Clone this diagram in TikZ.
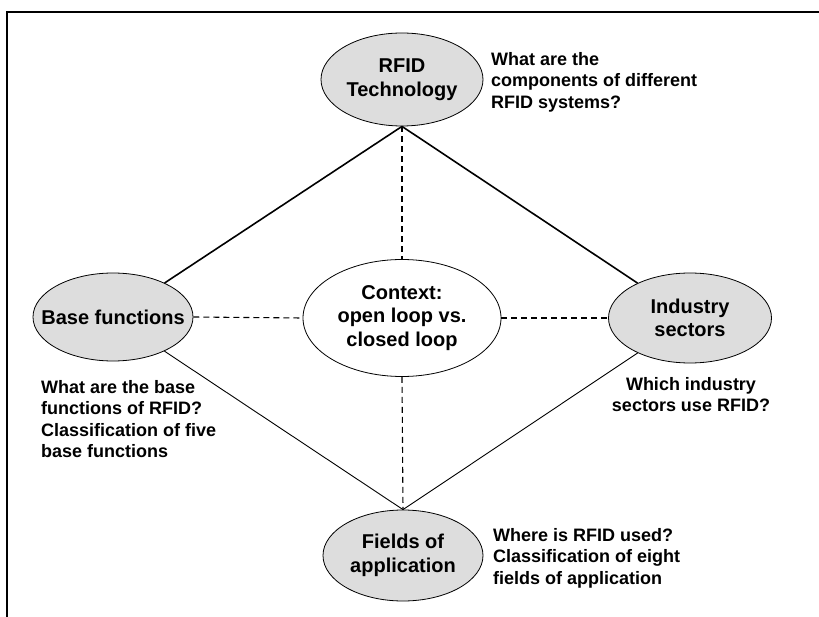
\documentclass[tikz,border=0pt]{standalone}
\usepackage{fontspec}
\setmainfont{Liberation Sans}
\usetikzlibrary{shapes.geometric}
\definecolor{ellgray}{RGB}{221,221,221}
\begin{document}
\begin{tikzpicture}[x=1pt,y=-1pt,
  topic/.style={ellipse, draw=black, line width=0.8pt, fill=ellgray, inner sep=0pt},
  ctxstyle/.style={ellipse, draw=black, line width=0.8pt, fill=white, inner sep=0pt},
  inlabel/.style={font=\bfseries\fontsize{20}{23.5}\selectfont, align=center, inner sep=0pt},
  note/.style={font=\bfseries\fontsize{18}{21.5}\selectfont, inner sep=0pt},
  strongline/.style={line width=1.6pt},
  thinline/.style={line width=0.9pt},
  dashline/.style={line width=1.1pt, dash pattern=on 6pt off 4pt}]
\useasboundingbox (0,0) rectangle (819,617);
\draw[line width=2.2pt] (819,12) -- (7,12) -- (7,617);

\node[topic, minimum width=162pt, minimum height=93pt,
      label={[inlabel,name=rfidtext]center:RFID\\Technology}] (rfid) at (402,79.5) {};
\node[topic, minimum width=160pt, minimum height=88pt,
      label={[inlabel,name=basetext]center:Base functions}] (base) at (113,317) {};
\node[ctxstyle, minimum width=198pt, minimum height=117pt,
      label={[inlabel,name=ctxtext]center:Context:\\open loop vs.\\closed loop}] (ctx) at (402,318) {};
\node[topic, minimum width=163pt, minimum height=90pt,
      label={[inlabel,name=indtext]center:Industry\\sectors}] (ind) at (690,318) {};
\node[topic, minimum width=160pt, minimum height=91pt,
      label={[inlabel,name=fldtext]center:Fields of\\application}] (fld) at (403,555.5) {};

\draw[strongline] (rfid.south) -- (base);
\draw[strongline] (rfid.south) -- (ind);
\draw[thinline] (fld.north) -- (base);
\draw[thinline] (fld.north) -- (ind);
\draw[dashline] (rfid.south) -- (ctx.north);
\draw[dashline] (ctx.south) -- (fld.north);
\draw[dashline] (base.east) -- (ctx.west);
\draw[dashline] (ctx.east) -- (ind.west);

\node[note, anchor=north west, align=left] (rfidnote) at (491,52)
  {What are the\\components of different\\RFID systems?};
\node[note, anchor=north west, align=left] (basenote) at (41,380)
  {What are the base\\functions of RFID?\\Classification of five\\base functions};
\node[note, anchor=north, align=center] (indnote) at (691,377)
  {Which industry\\sectors use RFID?};
\node[note, anchor=north west, align=left] (fldnote) at (493,528)
  {Where is RFID used?\\Classification of eight\\fields of application};
\end{tikzpicture}
\end{document}
